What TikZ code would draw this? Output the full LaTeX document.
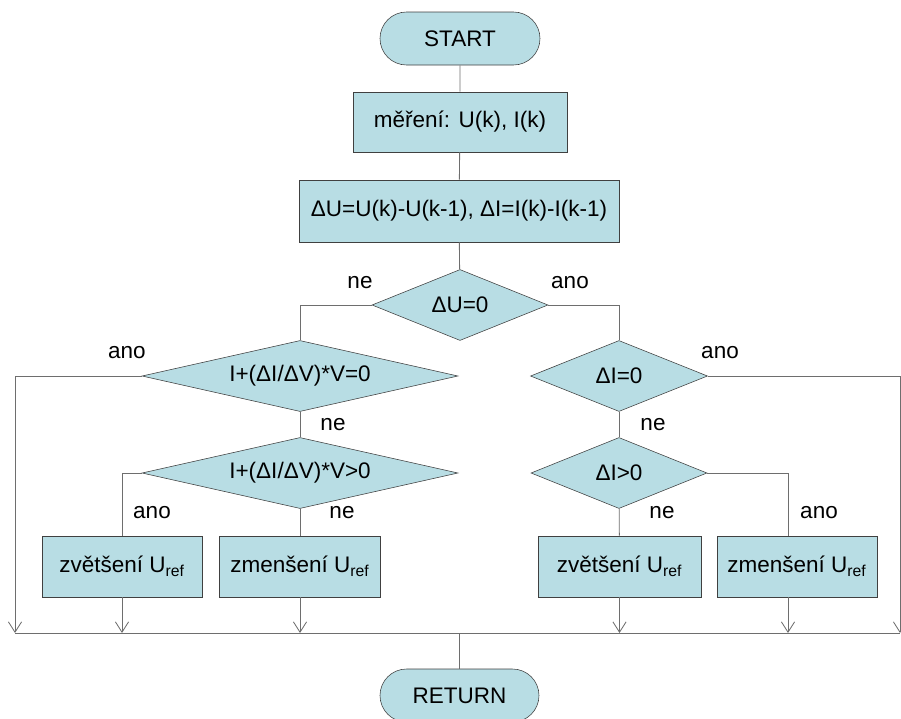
\documentclass[tikz,border=0pt]{standalone}
\usepackage{fontspec}
\setmainfont{Liberation Sans}
\usepackage{xcolor}
\usetikzlibrary{shapes.geometric,shapes.misc,arrows.meta}
\definecolor{boxfill}{RGB}{184,221,228}
\definecolor{boxline}{RGB}{64,64,64}
\definecolor{flowline}{RGB}{110,110,110}
\newcommand{\Uref}{U\textsubscript{ref}}

\begin{document}
\begin{tikzpicture}[x=0.25mm, y=-0.25mm, font=\fontsize{16}{19}\selectfont]
    \tikzstyle{terminal} = [rounded rectangle, draw=boxline, fill=boxfill, inner sep=0pt, minimum width=40mm, minimum height=13.25mm]
    \tikzstyle{process} = [rectangle, draw=boxline, fill=boxfill, inner sep=0pt, minimum height=15.25mm]
    \tikzstyle{decision} = [diamond, draw=boxline, fill=boxfill, inner sep=0pt, minimum height=17.75mm]
    \tikzstyle{line} = [draw=flowline, line width=0.6pt]
    \tikzstyle{flow} = [line, -{Straight Barb[length=2.6mm, width=3.3mm]}]
    \tikzstyle{lbl} = [inner sep=0pt]
    \useasboundingbox (0,0) rectangle (901,718);
    % main column
    \node[terminal] (start) at (460, 38.5) {START};
    \node[process, minimum width=53.5mm, minimum height=15mm] (meas) at (460, 122) {měření: U(k), I(k)};
    \node[process, minimum width=80mm, minimum height=15.5mm] (diff) at (459, 211) {ΔU=U(k)-U(k-1), ΔI=I(k)-I(k-1)};
    \node[decision, minimum width=44mm, aspect=2.5] (dU) at (460, 305) {ΔU=0};
    % left branch
    \node[decision, minimum width=79mm, aspect=4.45] (cond0) at (300, 376) {I+(ΔI/ΔV)*V=0};
    \node[decision, minimum width=79mm, aspect=4.45] (cond1) at (300, 473) {I+(ΔI/ΔV)*V>0};
    \node[process, minimum width=40mm] (inc1) at (122, 566.5) {zvětšení \Uref};
    \node[process, minimum width=40.25mm] (dec1) at (300, 566.5) {zmenšení \Uref};
    % right branch
    \node[decision, minimum width=44.25mm, aspect=2.5] (dI0) at (619, 376) {ΔI=0};
    \node[decision, minimum width=44mm, aspect=2.5] (dIpos) at (619, 473) {ΔI>0};
    \node[process, minimum width=40.75mm] (inc2) at (619.5, 566.5) {zvětšení \Uref};
    \node[process, minimum width=40mm] (dec2) at (797, 566.5) {zmenšení \Uref};
    \node[terminal, minimum width=39.75mm] (ret) at (459.5, 695.5) {RETURN};
    % bus and side entries of the off-centre box
    \coordinate (busL) at (15, 633); \coordinate (busR) at (900, 633);
    \coordinate (dec2in) at (788, 536); \coordinate (dec2out) at (788, 597);
    % labels
    \node[lbl] (neU) at (360, 283) {ne}; \node[lbl] (anoU) at (570, 283) {ano};
    \node[lbl] (anoC0) at (127, 353) {ano}; \node[lbl] (anoI0) at (720, 353) {ano};
    \node[lbl] (neC0) at (333, 425) {ne}; \node[lbl] (neI0) at (653, 425) {ne};
    \node[lbl] (anoC1) at (152, 513) {ano}; \node[lbl] (neC1) at (342, 513) {ne};
    \node[lbl] (neIp) at (662, 513) {ne}; \node[lbl] (anoIp) at (819, 513) {ano};
    % connectors
    \draw[line] (start) -- (meas); \draw[line] (meas) -- (diff);
    \draw[line] (diff) -- (dU);
    \draw[line] (dU.west) -| (cond0.north); \draw[line] (dU.east) -| (dI0.north);
    \draw[flow] (cond0.west) -| (busL); \draw[flow] (dI0.east) -| (busR);
    \draw[line] (cond0) -- (cond1); \draw[line] (dI0) -- (dIpos);
    \draw[line] (cond1.west) -| (inc1.north); \draw[line] (cond1) -- (dec1);
    \draw[line] (dIpos) -- (inc2); \draw[line] (dIpos.east) -| (dec2in);
    \draw[flow] (inc1.south) -- (inc1.south |- busL); \draw[flow] (dec1.south) -- (dec1.south |- busL);
    \draw[flow] (inc2.south) -- (inc2.south |- busL); \draw[flow] (dec2out) -- (dec2out |- busL);
    \draw[line] (busL) -- (busR);
    \draw[line] (ret.north |- busL) -- (ret.north);
\end{tikzpicture}
\end{document}
